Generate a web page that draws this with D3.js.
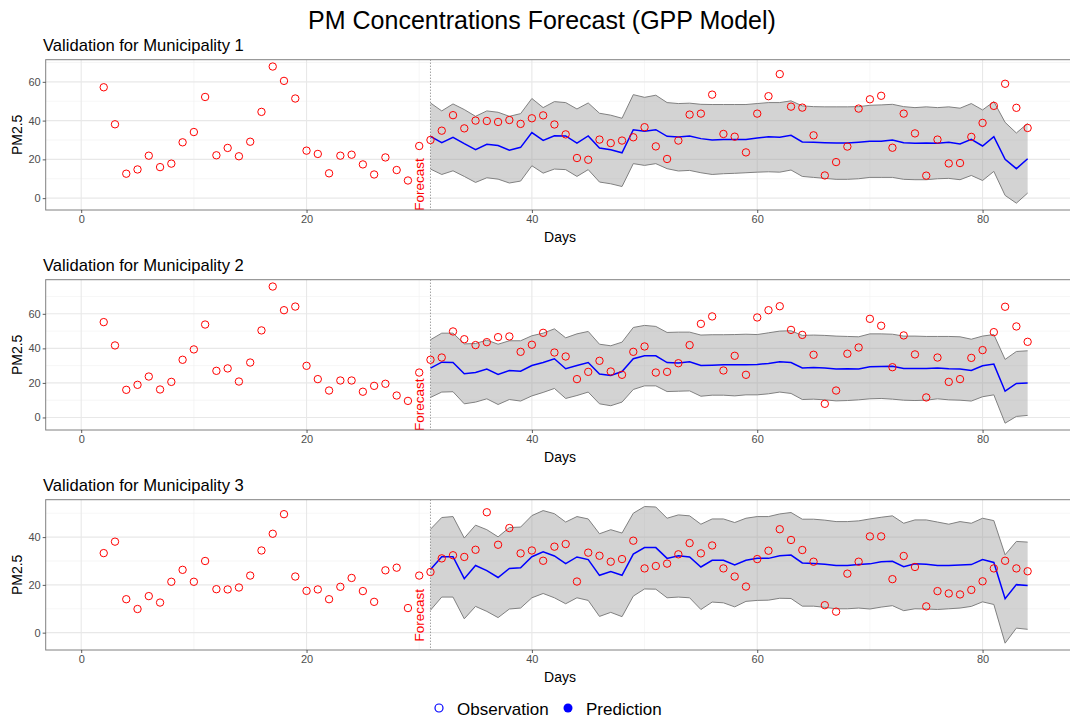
<!DOCTYPE html>
<html>
<head>
<meta charset="utf-8">
<script src="https://cdn.jsdelivr.net/npm/d3@7"></script>
<style>
  body { margin: 0; background: #fff; }
  svg { display: block; font-family: "Liberation Sans", Arial, Helvetica, sans-serif; }
</style>
</head>
<body>
<svg id="chart" width="1070" height="723"></svg>
<script>
// ---- data -------------------------------------------------------------
const obsDays = [2,3,4,5,6,7,8,9,10,11,12,13,14,15,16,17,18,19,20,21,22,23,24,25,26,27,28,29,30,
  31,32,33,34,35,36,37,38,39,40,41,42,43,44,45,46,47,48,49,50,51,52,53,54,55,56,57,58,59,60,
  61,62,63,64,65,66,67,68,69,70,71,72,73,74,75,76,77,78,79,80,81,82,83,84];
const forecastDays = [31,32,33,34,35,36,37,38,39,40,41,42,43,44,45,46,47,48,49,50,51,52,53,54,55,56,57,58,59,60,
  61,62,63,64,65,66,67,68,69,70,71,72,73,74,75,76,77,78,79,80,81,82,83,84];

const panelTitles = ["Validation for Municipality 1", "Validation for Municipality 2", "Validation for Municipality 3"];

// Municipality 1
const obs1 = [57.2,38.1,12.6,14.8,21.9,16.0,17.8,28.8,34.1,52.2,22.1,25.9,21.6,29.1,44.5,67.9,60.5,51.4,24.5,22.8,12.8,21.9,22.4,17.4,12.2,21.0,14.5,9.1,26.9,
  30.0,34.8,42.8,36.0,40.0,39.8,39.3,40.3,38.3,41.2,42.7,38.0,
  32.9,20.7,19.8,30.2,28.4,29.7,31.4,36.6,26.7,20.2,29.7,43.1,43.6,53.4,33.1,31.7,23.6,43.6,52.6,64.0,47.2,46.7,32.4,11.7,18.6,26.6,46.2,51.0,52.8,26.0,43.6,33.4,11.6,30.2,17.9,18.1,31.6,38.8,47.6,59.0,46.6,36.2];
const pred1 = [31.9,28.6,31.4,28.1,25.0,27.8,27.1,24.7,26.2,33.8,29.8,32.2,
  32.1,28.4,32.1,25.9,25.0,23.4,35.3,34.5,35.3,31.9,31.6,32.1,30.7,30.0,30.2,30.3,30.3,31.0,31.7,31.4,32.4,29.0,28.8,28.6,28.4,28.4,28.8,29.3,29.3,30.0,28.6,28.3,28.4,28.3,28.8,27.9,30.3,26.9,31.7,20.0,15.2,20.3];
const upper1 = [49.1,45.0,48.6,45.7,42.2,45.0,44.3,42.2,43.6,51.4,46.7,49.8,
  49.3,46.0,49.1,43.8,42.8,41.2,53.4,52.0,53.1,49.3,48.8,49.0,48.4,48.3,48.3,48.3,48.3,48.8,49.3,49.3,50.2,47.6,47.2,47.1,47.1,47.1,47.2,47.9,48.1,48.4,47.2,46.7,47.1,46.7,47.1,46.4,48.8,45.5,49.8,39.1,33.6,38.6];
const lower1 = [15.0,12.2,14.1,11.2,8.1,10.5,9.8,7.8,8.8,16.7,12.9,15.0,
  14.7,11.2,14.7,8.3,7.4,6.0,17.8,16.9,17.8,15.2,14.0,14.3,13.1,12.2,12.6,12.8,13.1,13.4,13.6,13.4,14.5,11.2,10.7,10.2,9.7,9.7,10.0,10.7,10.7,10.7,9.7,9.5,9.5,10.0,10.2,9.5,11.7,9.1,13.8,1.4,-2.6,2.6];

// Municipality 2
const obs2 = [55.2,41.7,16.0,18.9,23.7,16.2,20.6,33.4,39.4,53.8,27.0,28.4,20.8,31.8,50.4,75.8,62.1,64.2,29.9,22.2,15.6,21.4,21.4,14.9,18.3,19.5,12.7,9.6,26.0,
  33.4,34.7,49.8,45.3,41.9,43.6,46.5,46.9,38.0,42.1,49.0,37.6,
  35.3,22.2,26.4,32.8,26.6,24.7,38.0,41.1,26.0,26.4,31.4,41.9,54.2,58.5,27.2,35.7,24.7,57.9,62.1,64.4,50.7,47.8,36.3,7.9,15.6,36.9,40.5,57.1,53.1,29.1,47.5,36.5,11.6,34.7,20.6,22.2,34.5,39.0,49.4,64.1,52.7,43.8];
const pred2 = [28.6,32.0,31.8,25.3,26.0,28.0,24.9,27.2,26.8,30.1,31.8,34.0,
  28.2,30.1,31.8,25.1,24.3,26.6,34.0,35.7,35.7,31.8,31.6,32.2,30.1,30.3,30.5,30.5,30.5,30.7,31.3,32.2,31.8,28.7,28.9,28.7,28.0,28.2,28.0,29.3,29.5,29.7,28.4,28.4,28.4,28.6,28.2,28.0,27.2,29.9,30.9,15.2,19.7,19.9];
const upper2 = [45.0,48.8,48.8,42.6,42.8,44.8,42.4,44.4,44.4,47.3,48.8,51.3,
  46.1,48.4,49.8,42.4,41.5,43.6,52.1,53.3,52.7,49.2,49.4,49.4,47.7,47.9,47.9,48.0,48.2,48.0,49.0,50.0,50.2,47.5,47.7,47.5,47.1,46.9,46.7,48.4,48.4,48.2,47.1,47.1,46.9,46.9,46.9,46.7,45.3,47.1,48.0,33.6,38.2,38.6];
const lower2 = [11.6,14.7,14.9,7.9,8.9,10.8,7.5,10.4,9.5,12.5,14.5,16.8,
  11.0,12.7,14.7,7.9,6.8,8.9,16.2,18.3,18.3,15.0,15.2,15.4,12.3,12.9,12.9,12.5,13.1,13.1,13.7,14.7,13.9,10.4,10.6,10.2,9.6,9.8,10.2,10.8,11.0,10.6,10.0,9.8,10.0,10.8,10.2,10.0,9.5,12.0,13.1,-3.3,0.6,1.2];

// Municipality 3
const obs3 = [33.3,38.1,14.0,9.9,15.3,12.6,21.3,26.3,21.3,30.0,18.2,18.1,18.9,23.9,34.4,41.4,49.6,23.5,17.5,18.1,14.0,19.2,22.9,17.4,12.9,26.1,27.2,10.3,23.9,
  25.4,31.1,32.4,31.7,34.7,50.4,36.8,43.8,33.2,34.4,30.1,36.0,
  37.1,21.4,33.5,32.2,29.7,30.8,38.5,26.9,27.9,28.9,32.8,37.5,33.2,36.5,26.9,23.5,19.3,30.8,34.3,43.3,38.8,34.6,29.7,11.5,8.8,24.7,29.7,40.3,40.3,22.4,32.1,27.5,11.0,17.4,16.4,16.0,17.9,21.5,26.9,30.1,26.9,25.7];
const pred3 = [26.4,31.8,31.8,22.6,28.1,26.0,23.1,26.9,27.2,31.8,33.8,32.1,
  28.9,31.7,30.6,24.0,25.6,24.0,32.9,35.6,35.6,31.1,32.2,31.7,27.5,30.3,30.3,28.3,30.3,31.1,31.1,32.2,32.5,29.2,29.0,28.6,28.1,28.1,28.5,28.8,29.7,29.9,27.6,28.8,28.6,28.1,28.1,28.3,28.5,30.6,29.4,14.2,20.1,19.7];
const upper3 = [43.3,48.2,48.6,39.6,45.0,43.1,40.1,44.0,44.2,49.0,51.1,49.8,
  46.3,48.6,47.6,41.4,43.1,41.7,50.0,52.8,52.6,47.9,49.3,48.9,45.4,47.6,47.6,46.1,47.9,48.6,48.6,49.7,50.3,47.5,47.5,47.1,46.5,46.5,46.8,47.6,48.3,48.9,45.8,47.2,47.2,46.3,45.4,46.5,45.8,47.9,46.9,32.6,38.2,37.9];
const lower3 = [9.4,14.9,14.9,5.8,11.0,8.9,6.3,9.9,10.3,14.6,16.4,14.6,
  12.1,14.6,13.5,6.8,8.5,6.7,15.3,18.3,18.2,14.6,14.9,14.6,9.7,12.8,12.5,10.8,13.1,13.5,13.6,14.4,14.3,11.1,11.1,10.6,10.0,10.0,10.3,9.9,10.7,11.3,9.2,10.0,9.9,9.7,10.0,10.3,11.0,12.9,11.8,-4.4,1.9,1.4];

const xTicks = [0, 20, 40, 60, 80];
const xMinorTicks = [10, 30, 50, 70];
const yTicks1 = [0, 20, 40, 60];
const yTicks2 = [0, 20, 40, 60];
const yTicks3 = [0, 20, 40];

const forecastStart = 31;       // first forecast day (dotted marker)
const forecastLabelDay = 30;    // where the "Forecast" label sits

// ---- layout -----------------------------------------------------------
const W = 1070, H = 723;
const plotLeft = 45.7, plotRight = 1074.4;
const panelTops = [59.7, 279.7, 499.7];
const panelH = 150.3;
const xDomain = [-3.15, 88.15];
const labelCentre = [7.0, 7.4, 7.3];   // "Forecast" label centre, data units

const panels = [
  { title: panelTitles[0], obs: obs1, pred: pred1, upper: upper1, lower: lower1, yTicks: yTicks1 },
  { title: panelTitles[1], obs: obs2, pred: pred2, upper: upper2, lower: lower2, yTicks: yTicks2 },
  { title: panelTitles[2], obs: obs3, pred: pred3, upper: upper3, lower: lower3, yTicks: yTicks3 }
];

const svg = d3.select("#chart");
svg.append("rect").attr("width", W).attr("height", H).attr("fill", "#fff");

svg.append("text")
  .attr("x", 542).attr("y", 29)
  .attr("text-anchor", "middle")
  .attr("font-size", 25).attr("fill", "#000")
  .text("PM Concentrations Forecast (GPP Model)");

const x = d3.scaleLinear().domain(xDomain).range([plotLeft, plotRight]);

panels.forEach((p, i) => {
  const top = panelTops[i], bottom = top + panelH;

  // y range from data with a 5% margin on both sides
  const lo = d3.min([d3.min(p.obs), d3.min(p.lower)]);
  const hi = d3.max([d3.max(p.obs), d3.max(p.upper)]);
  const pad = (hi - lo) * 0.05;
  const y = d3.scaleLinear().domain([lo - pad, hi + pad]).range([bottom, top]);

  const yMinor = p.yTicks.map(t => t + 10).filter(t => t <= y.domain()[1]);

  const g = svg.append("g");
  const clipId = "clip" + i;
  svg.append("clipPath").attr("id", clipId)
    .append("rect").attr("x", plotLeft).attr("y", top)
    .attr("width", plotRight - plotLeft).attr("height", panelH);

  // subtitle
  g.append("text")
    .attr("x", 43).attr("y", top - 8.5)
    .attr("font-size", 16.6).attr("fill", "#000")
    .text(p.title);

  const body = g.append("g").attr("clip-path", `url(#${clipId})`);

  // grid
  body.selectAll(".gxm").data(xMinorTicks).join("line")
    .attr("x1", d => x(d)).attr("x2", d => x(d)).attr("y1", top).attr("y2", bottom)
    .attr("stroke", "#f0f0f0").attr("stroke-width", 0.6);
  body.selectAll(".gym").data(yMinor).join("line")
    .attr("x1", plotLeft).attr("x2", plotRight).attr("y1", d => y(d)).attr("y2", d => y(d))
    .attr("stroke", "#f0f0f0").attr("stroke-width", 0.6);
  body.selectAll(".gx").data(xTicks).join("line")
    .attr("x1", d => x(d)).attr("x2", d => x(d)).attr("y1", top).attr("y2", bottom)
    .attr("stroke", "#e8e8e8").attr("stroke-width", 1.1);
  body.selectAll(".gy").data(p.yTicks).join("line")
    .attr("x1", plotLeft).attr("x2", plotRight).attr("y1", d => y(d)).attr("y2", d => y(d))
    .attr("stroke", "#e8e8e8").attr("stroke-width", 1.1);

  // prediction band
  const band = forecastDays.map((d, k) => ({ d, lo: p.lower[k], hi: p.upper[k], m: p.pred[k] }));
  body.append("path").datum(band)
    .attr("d", d3.area().x(b => x(b.d)).y0(b => y(b.lo)).y1(b => y(b.hi)))
    .attr("fill", "#999").attr("fill-opacity", 0.43);
  ["lo", "hi"].forEach(k => {
    body.append("path").datum(band)
      .attr("d", d3.line().x(b => x(b.d)).y(b => y(b[k])))
      .attr("fill", "none").attr("stroke", "#808080").attr("stroke-width", 1);
  });
  body.append("path").datum(band)
    .attr("d", d3.line().x(b => x(b.d)).y(b => y(b.m)))
    .attr("fill", "none").attr("stroke", "#0000ff").attr("stroke-width", 1.5);

  // forecast start marker
  body.append("line")
    .attr("x1", x(forecastStart)).attr("x2", x(forecastStart))
    .attr("y1", top).attr("y2", bottom)
    .attr("stroke", "#555").attr("stroke-width", 0.8).attr("stroke-dasharray", "1,2");

  // observations
  body.selectAll(".obs").data(obsDays.map((d, k) => ({ d, v: p.obs[k] }))).join("circle")
    .attr("cx", o => x(o.d)).attr("cy", o => y(o.v)).attr("r", 3.7)
    .attr("fill", "none").attr("stroke", "#ff0000").attr("stroke-width", 1);

  // label
  const lx = x(forecastLabelDay), ly = y(labelCentre[i]);
  body.append("text")
    .attr("transform", `translate(${lx},${ly}) rotate(-90)`)
    .attr("text-anchor", "middle").attr("dy", "0.35em")
    .attr("font-size", 13.5).attr("fill", "#ff0000")
    .text("Forecast");

  // border
  g.append("rect")
    .attr("x", plotLeft).attr("y", top)
    .attr("width", plotRight - plotLeft).attr("height", panelH)
    .attr("fill", "none").attr("stroke", "#808080").attr("stroke-width", 1);

  // axes
  const xAxis = d3.axisBottom(x).tickValues(xTicks).tickSize(3).tickPadding(2);
  const gx = g.append("g").attr("transform", `translate(0,${bottom})`).call(xAxis);
  const yAxis = d3.axisLeft(y).tickValues(p.yTicks).tickSize(3).tickPadding(2);
  const gy = g.append("g").attr("transform", `translate(${plotLeft},0)`).call(yAxis);
  [gx, gy].forEach(a => {
    a.select(".domain").remove();
    a.selectAll(".tick line").attr("stroke", "#333").attr("stroke-width", 0.8);
    a.selectAll(".tick text").attr("fill", "#4d4d4d").attr("font-size", 11)
      .attr("font-family", "Liberation Sans, Arial, sans-serif");
  });

  g.append("text")
    .attr("x", (plotLeft + plotRight) / 2).attr("y", bottom + 32)
    .attr("text-anchor", "middle").attr("font-size", 14).attr("fill", "#000")
    .text("Days");
  g.append("text")
    .attr("transform", `translate(22,${(top + bottom) / 2}) rotate(-90)`)
    .attr("text-anchor", "middle").attr("font-size", 14).attr("fill", "#000")
    .text("PM2.5");
});

// legend
const legend = svg.append("g");
legend.append("circle").attr("cx", 439).attr("cy", 708).attr("r", 4)
  .attr("fill", "none").attr("stroke", "#0000ff").attr("stroke-width", 1.2);
legend.append("text").attr("x", 457).attr("y", 714.5).attr("font-size", 17).attr("fill", "#000").text("Observation");
legend.append("circle").attr("cx", 568).attr("cy", 708).attr("r", 4.5).attr("fill", "#0000ff");
legend.append("text").attr("x", 586).attr("y", 714.5).attr("font-size", 17).attr("fill", "#000").text("Prediction");
</script>
</body>
</html>
